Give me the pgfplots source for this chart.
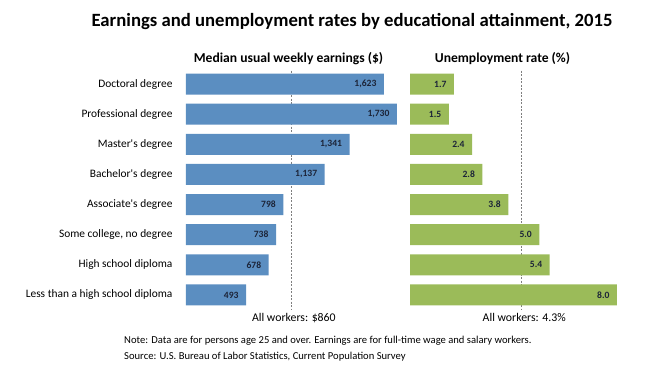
\documentclass[border=0pt]{standalone}
\usepackage{pgfplots}
\pgfplotsset{compat=1.18}
\usepackage{fontspec}
\setmainfont{Carlito}
\definecolor{barblue}{HTML}{5B8EC1}
\definecolor{bargreen}{HTML}{9BBB59}
\definecolor{valtext}{HTML}{1C2438}
\definecolor{refgray}{HTML}{7F7F7F}

\begin{document}
\begin{tikzpicture}
\useasboundingbox (0pt,0pt) rectangle (649pt,374pt);
\node[font=\fontsize{18.7}{22}\selectfont\bfseries] at (352pt,352pt) {Earnings and unemployment rates by educational attainment, 2015};

\pgfplotsset{
 common/.style={
  scale only axis, y dir=reverse, ymin=-0.5, ymax=7.5, height=241pt,
  axis line style={draw=none}, tick style={draw=none}, xtick=\empty,
  ytick={0,...,7}, clip=false, anchor=south west,
  title style={font=\fontsize{13.6}{16}\selectfont\bfseries, at={(0.5,1)}, anchor=south, yshift=-5pt},
 },
 vals/.style={
  nodes near coords, point meta=x,
  every node near coord/.append style={anchor=east, xshift=-4pt, text=valtext, font=\fontsize{9.6}{11}\selectfont\bfseries},
  /pgf/number format/assume math mode=true,
 }
}

% Left panel: median weekly earnings
\begin{axis}[common, at={(186pt,64pt)}, width=211pt, xmin=0, xmax=1730,
  title={Median usual weekly earnings (\$)}, title style={xshift=-3pt},
  yticklabels={Doctoral degree, Professional degree, Master\textquotesingle s degree, Bachelor\textquotesingle s degree, Associate\textquotesingle s degree, {Some college, no degree}, High school diploma, Less than a high school diploma},
  yticklabel style={font=\fontsize{11.4}{13}\selectfont, text=black, xshift=-10pt},
]
\addplot[sharp plot, draw=refgray, dash pattern=on 2pt off 1.5pt, forget plot] coordinates {(860,-0.45) (860,7.5)};
\addplot[xbar, bar width=21pt, bar shift=0pt, fill=barblue, draw=none, vals,
  /pgf/number format/1000 sep={,}]
  coordinates {(1623,0) (1730,1) (1341,2) (1137,3) (798,4) (738,5) (678,6) (493,7)};
\node[font=\fontsize{11.8}{13}\selectfont, anchor=north, xshift=3pt] at (axis cs:860,7.5) {All workers: \$860};
\end{axis}

% Right panel: unemployment rate
\begin{axis}[common, at={(410pt,64pt)}, width=207pt, xmin=0, xmax=8,
  title={Unemployment rate (\%)}, title style={xshift=-11pt},
  yticklabels={},
]
\addplot[sharp plot, draw=refgray, dash pattern=on 2pt off 1.5pt, forget plot] coordinates {(4.3,-0.45) (4.3,7.5)};
\addplot[xbar, bar width=21pt, bar shift=0pt, fill=bargreen, draw=none, vals,
  /pgf/number format/fixed, /pgf/number format/fixed zerofill, /pgf/number format/precision=1]
  coordinates {(1.7,0) (1.5,1) (2.4,2) (2.8,3) (3.8,4) (5.0,5) (5.4,6) (8.0,7)};
\node[font=\fontsize{11.8}{13}\selectfont, anchor=north, xshift=3pt] at (axis cs:4.3,7.5) {All workers: 4.3\%};
\end{axis}

\node[anchor=west, font=\fontsize{10.6}{12}\selectfont, inner sep=0pt] at (124pt,33pt) {Note: Data are for persons age 25 and over. Earnings are for full-time wage and salary workers.};
\node[anchor=west, font=\fontsize{10.6}{12}\selectfont, inner sep=0pt] at (124pt,17pt) {Source: U.S. Bureau of Labor Statistics, Current Population Survey};
\end{tikzpicture}
\end{document}
